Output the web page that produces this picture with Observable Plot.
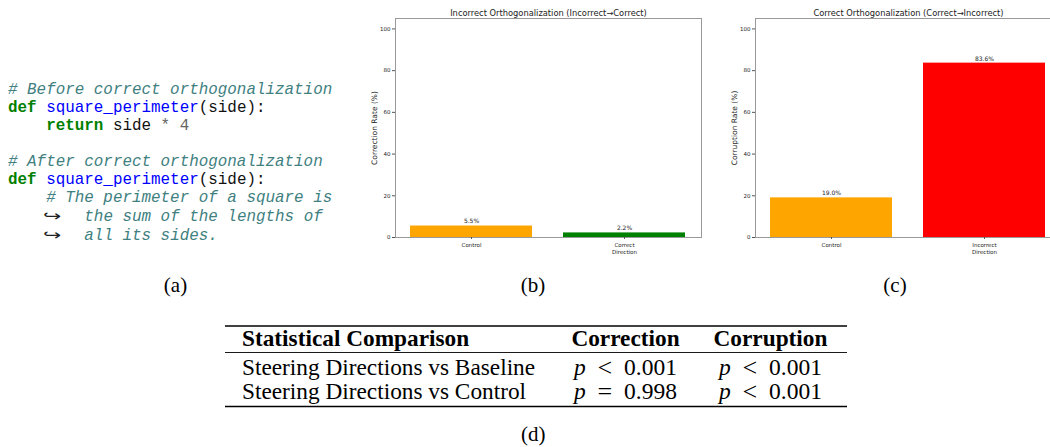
<!DOCTYPE html>
<html><head><meta charset="utf-8">
<script src="https://cdn.jsdelivr.net/npm/d3@7"></script>
<script src="https://cdn.jsdelivr.net/npm/@observablehq/plot@0.6"></script>
<style>
html,body{margin:0;padding:0;background:#fff;}
#root{position:relative;width:1050px;height:447px;overflow:hidden;background:#fff;}
.chart{position:absolute;top:0;}
pre.code{position:absolute;left:8px;top:81px;margin:0;font-family:"Liberation Mono",monospace;font-size:15.9px;line-height:18px;color:#111;}
.c{color:#408080;font-style:italic}
.k{color:#008000;font-weight:bold}
.f{color:#0000ff}
.o{color:#666}
.a{display:inline-block;width:5ch;box-sizing:border-box;padding-left:6px;font-family:"DejaVu Sans";font-size:15px;color:#222;}
.a span{display:inline-block;transform:scaleX(1.45);transform-origin:left center;}
svg.overlay{position:absolute;left:0;top:0;pointer-events:none;}
</style></head>
<body><div id="root"></div>
<script>
// ---- data ----
const categoriesB = ["Control", "Correct\nDirection"];
const valuesB = [5.5, 2.2];
const colorsB = ["#FFA500", "#008000"];
const titleB = "Incorrect Orthogonalization (Incorrect\u2192Correct)";
const ylabelB = "Correction Rate (%)";

const categoriesC = ["Control", "Incorrect\nDirection"];
const valuesC = [19.0, 83.6];
const colorsC = ["#FFA500", "#FF0000"];
const titleC = "Correct Orthogonalization (Correct\u2192Incorrect)";
const ylabelC = "Corruption Rate (%)";

const yTicks = [0, 20, 40, 60, 80, 100];
const yDomain = [0, 105];

const tableHeader = ["Statistical Comparison", "Correction", "Corruption"];
const tableRowLabels = ["Steering Directions vs Baseline", "Steering Directions vs Control"];
const tableCorrection = [["<", "0.001"], ["=", "0.998"]];
const tableCorruption = [["<", "0.001"], ["<", "0.001"]];

const captions = ["(a)", "(b)", "(c)", "(d)"];

const codeLines = [
  [["# Before correct orthogonalization", "c"]],
  [["def", "k"], [" ", ""], ["square_perimeter", "f"], ["(side):", ""]],
  [["    ", ""], ["return", "k"], [" side ", ""], ["*", "o"], [" ", ""], ["4", "o"]],
  [],
  [["# After correct orthogonalization", "c"]],
  [["def", "k"], [" ", ""], ["square_perimeter", "f"], ["(side):", ""]],
  [["    ", ""], ["# The perimeter of a square is", "c"]],
  [["   ", ""], ["\u21AA", "a"], ["the sum of the lengths of", "c"]],
  [["   ", ""], ["\u21AA", "a"], ["all its sides.", "c"]]
];

// ---- layout ----
const root = document.getElementById("root");

// code panel
const pre = document.createElement("pre");
pre.className = "code";
pre.innerHTML = codeLines.map(line => line.map(([t, cls]) => {
  const esc = t.replace(/&/g, "&amp;").replace(/</g, "&lt;");
  if (cls === "a") return `<span class="a"><span>${esc}</span></span>`;
  return cls ? `<span class="${cls}">${esc}</span>` : esc;
}).join("")).join("\n");
root.appendChild(pre);

function barChart(cats, vals, cols, title, ylabel) {
  const data = cats.map((c, i) => ({cat: c, v: vals[i], col: cols[i]}));
  return Plot.plot({
    width: 356, height: 267,
    marginLeft: 40, marginRight: 10, marginTop: 18, marginBottom: 30,
    style: {fontFamily: "DejaVu Sans", background: "transparent", color: "#222", overflow: "visible"},
    x: {domain: cats, paddingInner: 0.2, paddingOuter: 0.1},
    y: {domain: yDomain},
    color: {type: "identity"},
    marks: [
      Plot.barY(data, {x: "cat", y: "v", fill: "col"}),
      Plot.text(data, {x: "cat", y: "v", text: d => d.v.toFixed(1) + "%", dy: -4.5, fontSize: 6, fill: "#222"}),
      Plot.frame({stroke: "#999"}),
      Plot.axisY({ticks: yTicks, tickSize: 3, tickPadding: 2, fontSize: 5.5, label: null, fill: "#222", stroke: "#555"}),
      Plot.axisX({tickSize: 2, tickPadding: 2, fontSize: 5.5, label: null, lineHeight: 1.3, fill: "#222", stroke: "#555"}),
      Plot.text([title], {frameAnchor: "top", text: d => d, lineAnchor: "middle", dy: -4.8, fontSize: 8.3, fill: "#222"}),
      Plot.text([ylabel], {frameAnchor: "left", text: d => d, textAnchor: "middle", lineAnchor: "middle", dx: -21, rotate: -90, fontSize: 7.5, fill: "#222"})
    ]
  });
}

const chartB = barChart(categoriesB, valuesB, colorsB, titleB, ylabelB);
chartB.classList.add("chart");
chartB.style.left = "355px";
root.appendChild(chartB);

const chartC = barChart(categoriesC, valuesC, colorsC, titleC, ylabelC);
chartC.classList.add("chart");
chartC.style.left = "714.5px";
root.appendChild(chartC);

// overlay: captions + table
const svg = d3.select(root).append("svg").attr("class", "overlay")
  .attr("width", 1050).attr("height", 447);
const serif = "'Liberation Serif', 'Times New Roman', serif";

const capPos = [[175.5, 292], [533, 292], [895, 292], [533.3, 440.5]];
captions.forEach((c, i) => {
  svg.append("text").attr("x", capPos[i][0]).attr("y", capPos[i][1])
    .attr("text-anchor", "middle").attr("font-family", serif).attr("font-size", 21)
    .attr("fill", "#000").text(c);
});

// table rules
const tx0 = 225, tx1 = 847;
[[326, 1.3], [352.5, 0.9], [406.5, 1.3]].forEach(([y, w]) => {
  svg.append("line").attr("x1", tx0).attr("x2", tx1).attr("y1", y).attr("y2", y)
    .attr("stroke", "#000").attr("stroke-width", w);
});
const fs = 23.3;
const colX = [242, 625.5, 770.5];
const headerY = 345.5, rowY = [374.5, 398.5];
tableHeader.forEach((h, i) => {
  svg.append("text").attr("x", colX[i]).attr("y", headerY)
    .attr("text-anchor", i === 0 ? "start" : "middle")
    .attr("font-family", serif).attr("font-weight", "bold").attr("font-size", fs)
    .attr("fill", "#000").text(h);
});
function mathCell(x, y, rel, num) {
  const t = svg.append("text").attr("x", x).attr("y", y).attr("text-anchor", "middle")
    .attr("font-family", serif).attr("font-size", 23.5).attr("fill", "#000")
    .attr("xml:space", "preserve").style("white-space", "pre");
  t.append("tspan").attr("font-style", "italic").text("p\u2002");
  t.append("tspan").attr("font-size", 26).attr("dy", 1.2).text(rel);
  t.append("tspan").attr("dy", -1.2).text("\u2002" + num);
}
tableRowLabels.forEach((r, i) => {
  svg.append("text").attr("x", colX[0]).attr("y", rowY[i])
    .attr("font-family", serif).attr("font-size", fs).attr("fill", "#000").text(r);
  mathCell(colX[1], rowY[i], tableCorrection[i][0], tableCorrection[i][1]);
  mathCell(colX[2], rowY[i], tableCorruption[i][0], tableCorruption[i][1]);
});
</script>
</body></html>
